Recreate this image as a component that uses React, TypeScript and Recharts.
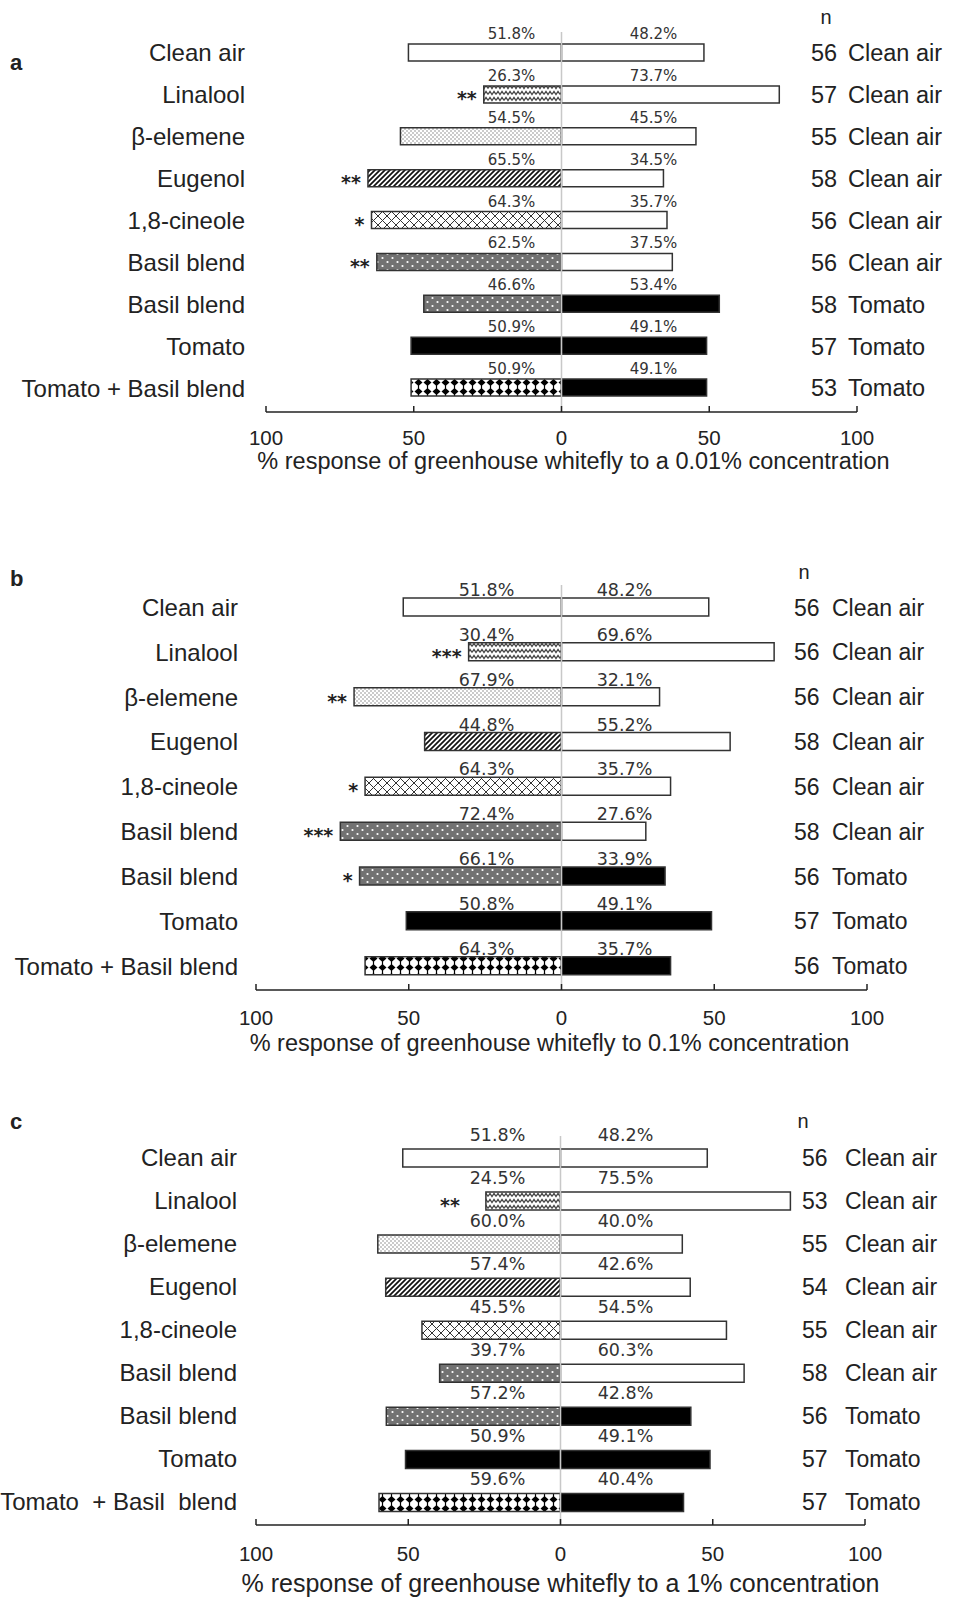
import React from 'react';
import { BarChart, Bar, XAxis, YAxis, Cell, LabelList, ReferenceLine, Label } from 'recharts';

const FONT = '"Liberation Sans", Arial, sans-serif';
const PCT_FONT = '"DejaVu Sans", Verdana, sans-serif';

const rowLabels = ['Clean air', 'Linalool', 'β-elemene', 'Eugenol', '1,8-cineole', 'Basil blend', 'Basil blend', 'Tomato', 'Tomato + Basil blend'];
const rowLabelsC = ['Clean air', 'Linalool', 'β-elemene', 'Eugenol', '1,8-cineole', 'Basil blend', 'Basil blend', 'Tomato', 'Tomato  + Basil  blend'];
const leftTreatments = ['clean', 'linalool', 'elemene', 'eugenol', 'cineole', 'basil', 'basil', 'tomato', 'tomatoBasil'];
const rightOdours = ['Clean air', 'Clean air', 'Clean air', 'Clean air', 'Clean air', 'Clean air', 'Tomato', 'Tomato', 'Tomato'];
const xTicks = [-100, -50, 0, 50, 100];

// a: 0.01% concentration
const leftA = [51.8, 26.3, 54.5, 65.5, 64.3, 62.5, 46.6, 50.9, 50.9];
const rightA = [48.2, 73.7, 45.5, 34.5, 35.7, 37.5, 53.4, 49.1, 49.1];
const nA = [56, 57, 55, 58, 56, 56, 58, 57, 53];
const starsA = ['', '**', '', '**', '*', '**', '', '', ''];

// b: 0.1% concentration
const leftB = [51.8, 30.4, 67.9, 44.8, 64.3, 72.4, 66.1, 50.8, 64.3];
const rightB = [48.2, 69.6, 32.1, 55.2, 35.7, 27.6, 33.9, 49.1, 35.7];
const nB = [56, 56, 56, 58, 56, 58, 56, 57, 56];
const starsB = ['', '***', '**', '', '*', '***', '*', '', ''];

// c: 1% concentration
const leftC = [51.8, 24.5, 60.0, 57.4, 45.5, 39.7, 57.2, 50.9, 59.6];
const rightC = [48.2, 75.5, 40.0, 42.6, 54.5, 60.3, 42.8, 49.1, 40.4];
const nC = [56, 53, 55, 54, 55, 58, 56, 57, 57];
const starsC = ['', '**', '', '', '', '', '', '', ''];

const treatmentFill: Record<string, string> = {
	clean: '#ffffff',
	linalool: 'url(#pat-linalool)',
	elemene: 'url(#pat-elemene)',
	eugenol: 'url(#pat-eugenol)',
	cineole: 'url(#pat-cineole)',
	basil: 'url(#pat-basil)',
	tomato: '#000000',
	tomatoBasil: 'url(#pat-tomatobasil)',
};
const odourFill: Record<string, string> = { 'Clean air': '#ffffff', Tomato: '#000000' };

const PatternDefs = () => (
	<svg width={0} height={0} style={{ position: 'absolute' }}>
		<defs>
			<pattern id="pat-linalool" width={8} height={6} patternUnits="userSpaceOnUse">
				<rect width={8} height={6} fill="#fff" />
				<path d="M0 4.5 L2 1.5 L4 4.5 L6 1.5 L8 4.5" fill="none" stroke="#444" strokeWidth={1.3} />
			</pattern>
			<pattern id="pat-elemene" width={4} height={4} patternUnits="userSpaceOnUse">
				<rect width={4} height={4} fill="#fff" />
				<circle cx={1} cy={1} r={0.8} fill="#8a8a8a" />
				<circle cx={3} cy={3} r={0.8} fill="#8a8a8a" />
			</pattern>
			<pattern id="pat-eugenol" width={5} height={5} patternUnits="userSpaceOnUse">
				<rect width={5} height={5} fill="#fff" />
				<path d="M-1 6 L6 -1 M-1 1 L1 -1 M4 6 L6 4" stroke="#111" strokeWidth={1.7} />
			</pattern>
			<pattern id="pat-cineole" width={9} height={9} patternUnits="userSpaceOnUse">
				<rect width={9} height={9} fill="#fff" />
				<path d="M0 0 L9 9 M9 0 L0 9" stroke="#333" strokeWidth={1} />
			</pattern>
			<pattern id="pat-basil" width={10} height={8} patternUnits="userSpaceOnUse">
				<rect width={10} height={8} fill="#727272" />
				<circle cx={2.5} cy={2} r={1.1} fill="#fff" />
				<circle cx={7.5} cy={6} r={1.1} fill="#fff" />
			</pattern>
			<pattern id="pat-tomatobasil" width={9} height={9} patternUnits="userSpaceOnUse">
				<rect width={9} height={9} fill="#fff" />
				<path d="M4.5 1 L8.5 4.5 L4.5 8 L0.5 4.5 Z" fill="#000" />
				<path d="M4.5 0 L4.5 9" stroke="#000" strokeWidth={1.2} />
			</pattern>
		</defs>
	</svg>
);

interface PanelProps {
	top: number;
	height: number;
	plotTop: number;
	plotLeft: number;
	plotRight: number;
	xAxisHeight: number;
	padBottom: number;
	barSize: number;
	labels: string[];
	left: number[];
	right: number[];
	n: number[];
	stars: string[];
	title: string;
	titleSize: number;
	titleDy: number;
	titleDx: number;
	tickDy: number;
	labelGap: number;
	labelSize: number;
	pctSize: number;
	pctGap: number;
	leftPctDx: number;
	rightPctDx: number;
	starGap: number;
	nDx: number;
	odourDx: number;
	rightSize: number;
}

const Panel = (p: PanelProps) => {
	const data = p.left.map((v, i) => ({
		id: `r${i}`,
		left: -v,
		right: p.right[i],
		leftText: `${v.toFixed(1)}%`,
		rightText: `${p.right[i].toFixed(1)}%`,
		stars: p.stars[i],
	}));

	const renderXTick = (props: any) => {
		const { x, y, payload } = props;
		const axisY = y - p.tickDy;
		return (
			<g>
				<line x1={x} x2={x} y1={axisY} y2={axisY - 6} stroke="#222" strokeWidth={1.5} />
				<text x={x} y={y} dy="0.355em" textAnchor="middle" fontSize={20.5} fontFamily={FONT} fill="#222">
					{Math.abs(payload.value)}
				</text>
			</g>
		);
	};

	const renderLeftTick = (props: any) => {
		const { x, y, payload } = props;
		return (
			<text x={x} y={y} dy="0.355em" textAnchor="end" fontSize={p.labelSize} fontFamily={FONT} fill="#222" style={{ whiteSpace: 'pre' }}>
				{p.labels[payload.index]}
			</text>
		);
	};

	const renderRightTick = (props: any) => {
		const { x, y, payload } = props;
		const i = payload.index;
		return (
			<text y={y} dy="0.355em" fontSize={p.rightSize} fontFamily={FONT} fill="#222">
				<tspan x={x + p.nDx}>{p.n[i]}</tspan>
				<tspan x={x + p.odourDx}>{rightOdours[i]}</tspan>
			</text>
		);
	};

	const pctLabel = (side: 'left' | 'right') => (props: any) => {
		const vb = props.viewBox || props;
		const a = vb.x;
		const b = vb.x + vb.width;
		const zero = side === 'left' ? Math.max(a, b) : Math.min(a, b);
		const top = Math.min(vb.y, vb.y + vb.height);
		return (
			<text x={zero + (side === 'left' ? p.leftPctDx : p.rightPctDx)} y={top - p.pctGap} textAnchor="middle" fontSize={p.pctSize} fontFamily={PCT_FONT} fill="#333">
				{props.value}
			</text>
		);
	};

	const starLabel = (props: any) => {
		if (!props.value) return null;
		const vb = props.viewBox || props;
		const far = Math.min(vb.x, vb.x + vb.width);
		const mid = vb.y + vb.height / 2;
		return (
			<text x={far - p.starGap} y={mid + 11} textAnchor="end" fontSize={19} fontWeight="bold" fontFamily={PCT_FONT} fill="#222">
				{props.value}
			</text>
		);
	};

	const renderTitle = (props: any) => {
		const vb = props.viewBox;
		return (
			<text x={vb.x + vb.width / 2 + p.titleDx} y={vb.y + p.titleDy} dy="0.33em" textAnchor="middle" fontSize={p.titleSize} fontFamily={FONT} fill="#222">
				{p.title}
			</text>
		);
	};

	return (
		<div style={{ position: 'absolute', left: 0, top: p.top }}>
			<BarChart
				width={959}
				height={p.height}
				data={data}
				layout="vertical"
				margin={{ top: p.plotTop, right: 0, bottom: 8, left: 0 }}
			>
				<XAxis
					type="number"
					domain={[-100, 100]}
					ticks={xTicks}
					height={p.xAxisHeight}
					axisLine={{ stroke: '#222', strokeWidth: 1.5 }}
					tickLine={false}
					tickSize={0}
					tickMargin={p.tickDy}
					tick={renderXTick}
					label={<Label content={renderTitle} />}
				/>
				<YAxis
					yAxisId="left"
					type="category"
					dataKey="id"
					width={p.plotLeft}
					axisLine={false}
					tickLine={false}
					tickSize={0}
					tickMargin={p.labelGap}
					tick={renderLeftTick}
					padding={{ top: 0, bottom: p.padBottom }}
				/>
				<YAxis
					yAxisId="right"
					orientation="right"
					type="category"
					dataKey="id"
					width={959 - p.plotRight}
					axisLine={false}
					tickLine={false}
					tickSize={0}
					tickMargin={0}
					tick={renderRightTick}
					padding={{ top: 0, bottom: p.padBottom }}
				/>
				<Bar yAxisId="left" dataKey="left" barSize={p.barSize} stroke="#333" strokeWidth={1.5} isAnimationActive={false}>
					{data.map((_, i) => (
						<Cell key={`l${i}`} fill={treatmentFill[leftTreatments[i]]} />
					))}
					<LabelList dataKey="leftText" content={pctLabel('left')} />
					<LabelList dataKey="stars" content={starLabel} />
				</Bar>
				<Bar yAxisId="right" dataKey="right" barSize={p.barSize} stroke="#333" strokeWidth={1.5} isAnimationActive={false}>
					{data.map((_, i) => (
						<Cell key={`r${i}`} fill={odourFill[rightOdours[i]]} />
					))}
					<LabelList dataKey="rightText" content={pctLabel('right')} />
				</Bar>
				<ReferenceLine yAxisId="left" x={0} stroke="#c8c8c8" strokeWidth={1.5} />
			</BarChart>
		</div>
	);
};

export default function App() {
	return (
		<div style={{ position: 'relative', width: 959, height: 1599, background: '#fff' }}>
			<style>{'body{margin:0;}'}</style>
			<PatternDefs />
			<Panel
				top={0}
				height={480}
				plotTop={32}
				plotLeft={266}
				plotRight={857}
				xAxisHeight={60}
				padBottom={3}
				barSize={17}
				labels={rowLabels}
				left={leftA}
				right={rightA}
				n={nA}
				stars={starsA}
				title="% response of greenhouse whitefly to a 0.01% concentration"
				titleSize={23.5}
				titleDy={49}
				titleDx={12}
				tickDy={26}
				labelGap={21}
				labelSize={24}
				pctSize={15}
				pctGap={5}
				leftPctDx={-50}
				rightPctDx={92}
				starGap={7}
				nDx={-46}
				odourDx={-9}
				rightSize={23.5}
			/>
			<Panel
				top={540}
				height={520}
				plotTop={45}
				plotLeft={256}
				plotRight={867}
				xAxisHeight={62}
				padBottom={1.5}
				barSize={18}
				labels={rowLabels}
				left={leftB}
				right={rightB}
				n={nB}
				stars={starsB}
				title="% response of greenhouse whitefly to 0.1% concentration"
				titleSize={23.5}
				titleDy={53}
				titleDx={-12}
				tickDy={27.5}
				labelGap={18}
				labelSize={24}
				pctSize={17.5}
				pctGap={2}
				leftPctDx={-75}
				rightPctDx={63}
				starGap={7}
				nDx={-73}
				odourDx={-35}
				rightSize={23}
			/>
			<Panel
				top={1090}
				height={509}
				plotTop={46}
				plotLeft={256}
				plotRight={865}
				xAxisHeight={66}
				padBottom={1.5}
				barSize={18}
				labels={rowLabelsC}
				left={leftC}
				right={rightC}
				n={nC}
				stars={starsC}
				title="% response of greenhouse whitefly to a 1% concentration"
				titleSize={25}
				titleDy={59}
				titleDx={0}
				tickDy={29}
				labelGap={19}
				labelSize={24}
				pctSize={17.5}
				pctGap={8}
				leftPctDx={-63}
				rightPctDx={65}
				starGap={26}
				nDx={-63}
				odourDx={-20}
				rightSize={23}
			/>
			<svg width={959} height={1599} style={{ position: 'absolute', left: 0, top: 0, pointerEvents: 'none' }}>
				<g fontFamily={FONT} fill="#222">
					<text x={10} y={70} fontSize={22} fontWeight="bold">a</text>
					<text x={10} y={586} fontSize={22} fontWeight="bold">b</text>
					<text x={10} y={1129} fontSize={22} fontWeight="bold">c</text>
					<text x={826} y={24} fontSize={20} textAnchor="middle">n</text>
					<text x={804} y={579} fontSize={20} textAnchor="middle">n</text>
					<text x={803} y={1128} fontSize={20} textAnchor="middle">n</text>
				</g>
			</svg>
		</div>
	);
}
